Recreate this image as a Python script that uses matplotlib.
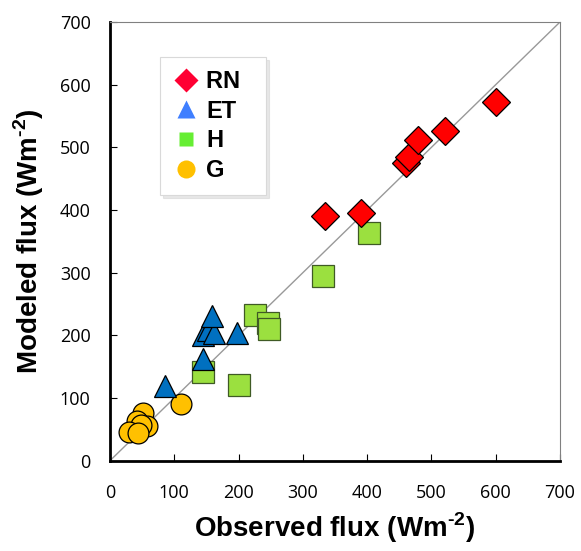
import numpy as np
import matplotlib
matplotlib.use("Agg")
import matplotlib.pyplot as plt
from matplotlib.lines import Line2D

plt.rcParams['font.family'] = ['Liberation Sans', 'DejaVu Sans']
plt.rcParams['mathtext.fontset'] = 'custom'
plt.rcParams['mathtext.bf'] = 'Liberation Sans:bold'
plt.rcParams['mathtext.rm'] = 'Liberation Sans:bold'

# observed / modeled fluxes (W m-2)
rn_obs = [334, 390, 460, 465, 479, 521, 601]
rn_mod = [390, 395, 475, 484, 511, 526, 572]
et_obs = [86, 144, 145, 152, 162, 158, 197]
et_mod = [119, 163, 201, 208, 203, 231, 204]
h_obs = [332, 403, 225, 246, 248, 144, 200]
h_mod = [295, 364, 232, 219, 210, 142, 121]
g_obs = [111, 52, 42, 58, 48, 29, 44]
g_mod = [90, 76, 64, 55, 57, 46, 44]

ticks = [0, 100, 200, 300, 400, 500, 600, 700]

fig = plt.figure(figsize=(5.81, 5.51), dpi=100)
ax = fig.add_axes([0.1893, 0.1639, 0.7746, 0.7962])

ax.plot([0, 700], [0, 700], color='#999999', lw=1.0, zorder=1)

ax.plot(g_obs, g_mod, 'o', ms=15, mfc='#FFC000', mec='black', mew=0.9, zorder=2)
ax.plot(h_obs, h_mod, 's', ms=16, mfc='#9BE03F', mec='#3F5A25', mew=0.9, zorder=3)
ax.plot(et_obs, et_mod, '^', ms=15.5, mfc='#0070C0', mec='black', mew=0.9, zorder=4)
ax.plot(rn_obs, rn_mod, 'D', ms=14, mfc='#FF0000', mec='black', mew=0.9, zorder=5)

ax.set_xlim(0, 700)
ax.set_ylim(0, 700)
ax.set_xticks(ticks)
ax.set_yticks(ticks)
ax.tick_params(direction='in', length=5, width=0.8, labelsize=13)
ax.tick_params(axis='x', pad=17)
ax.tick_params(axis='y', pad=14)
for lab in ax.get_xticklabels() + ax.get_yticklabels():
    lab.set_fontfamily('Open Sans')

for s in ['left', 'bottom']:
    ax.spines[s].set_linewidth(2.0)
    ax.spines[s].set_color('black')
for s in ['top', 'right']:
    ax.spines[s].set_linewidth(0.8)
    ax.spines[s].set_color('#808080')

ax.set_xlabel(r'Observed flux (Wm$^{\text{-2}}$)', fontsize=20, fontweight='bold', labelpad=6)
ax.set_ylabel(r'Modeled flux (Wm$^{\text{-2}}$)', fontsize=20, fontweight='bold', labelpad=10)

handles = [
    Line2D([], [], ls='none', marker='D', ms=12, mfc='#FF0033', mec='none'),
    Line2D([], [], ls='none', marker='^', ms=13.5, mfc='#3F7FFF', mec='none'),
    Line2D([], [], ls='none', marker='s', ms=9.5, mfc='#66EE33', mec='none'),
    Line2D([], [], ls='none', marker='o', ms=13, mfc='#FFC000', mec='none'),
]
leg = ax.legend(handles, ['RN  ', 'ET', 'H', 'G'], loc='upper left',
                bbox_to_anchor=(0.111, 0.92), prop={'weight': 'bold', 'size': 17},
                frameon=True, fancybox=False, shadow={'color': '#D0D0D0'},
                borderpad=0.55, labelspacing=0.28, handlelength=1.1,
                handletextpad=0.3, borderaxespad=0)
leg.get_frame().set_edgecolor('#D9D9D9')
leg.get_frame().set_linewidth(0.8)

fig.savefig('out.png', dpi=100)
